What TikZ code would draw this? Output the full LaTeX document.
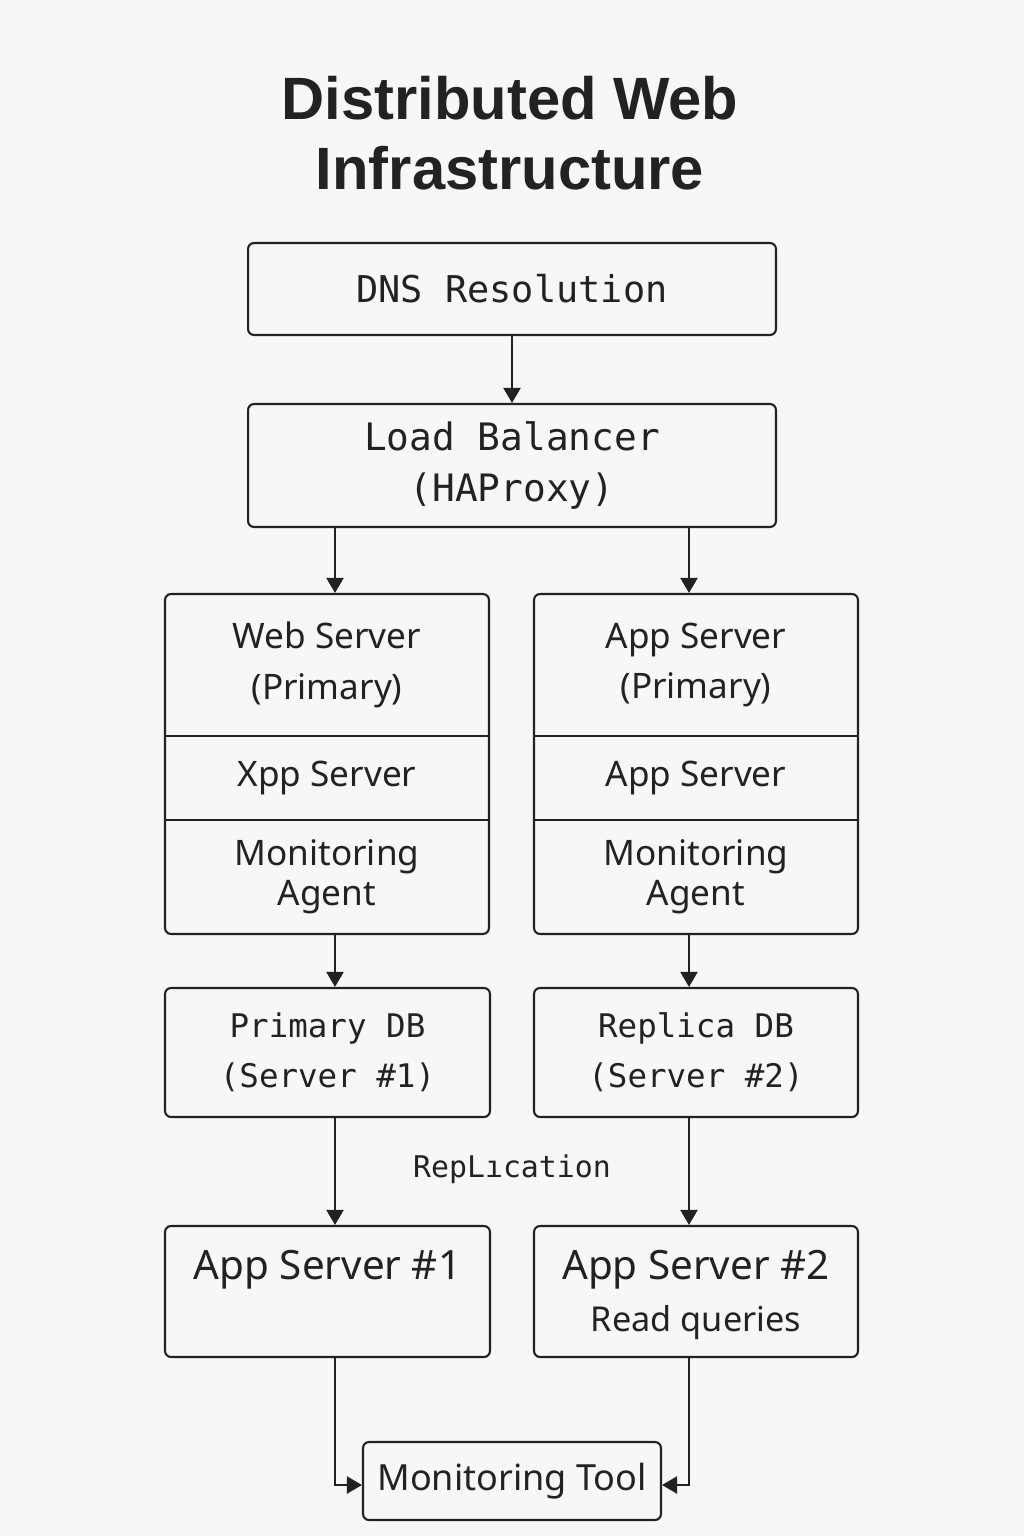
\documentclass[tikz,border=0pt]{standalone}
\usepackage{fontspec}
\setmainfont{Noto Sans}
\newfontfamily\monofont{DejaVu Sans Mono}
\newfontfamily\titlefont{Liberation Sans}
\usepackage{tikz}
\usetikzlibrary{positioning}
\usetikzlibrary{fit}
\usetikzlibrary{arrows.meta}

\definecolor{bgcol}{HTML}{F7F7F7}
\definecolor{inkcol}{HTML}{222222}

\begin{document}
\begin{tikzpicture}[
    x=0.02cm, y=-0.02cm,
    every node/.style={
        text=inkcol
    },
    block/.style={
        rectangle,
        rounded corners=0.12cm,
        draw=inkcol, line width=1.2pt,
        fill=bgcol,
        align=center,
        inner sep=0pt
    },
    section/.style={
        rectangle,
        minimum width=6.48cm,
        inner sep=0pt, outer sep=0pt,
        align=center,
        font=\fontsize{20}{29}\selectfont
    },
    stackbox/.style={
        rectangle,
        rounded corners=0.12cm,
        draw=inkcol, line width=1.2pt,
        inner sep=0pt
    },
    mono/.style={
        font=\monofont\fontsize{21}{28}\selectfont
    },
    link/.style={
        draw=inkcol, line width=1.2pt,
        -{Triangle[length=0.3cm,width=0.34cm]}
    }
]
\fill[bgcol] (0,0) rectangle (1024,1536);

% title
\node (title) at (510,133) [align=center,
    font=\titlefont\bfseries\fontsize{34}{40}\selectfont]
    {Distributed Web\\Infrastructure};

% columns for the connectors
\coordinate (colL) at (335,0);
\coordinate (colR) at (689,0);

\node (dns) [block, mono, minimum width=10.56cm, minimum height=1.84cm]
    at (512,289) {DNS Resolution};
\node (lb)  [block, mono, minimum width=10.56cm, minimum height=2.46cm,
    font=\monofont\fontsize{21.5}{28.5}\selectfont]
    at (512,465.5) {Load Balancer\\(HAProxy)};

% left stack
\node (wsTop) [section, minimum height=2.84cm] at (327,665)
    {Web Server\\(Primary)};
\node (wsMid) [section, minimum height=1.68cm, below=0pt of wsTop]
    {Xpp Server};
\node (wsBot) [section, minimum height=2.28cm, below=0pt of wsMid,
    font=\fontsize{20}{22.5}\selectfont]
    {Monitoring\\Agent};
\node (ws) [stackbox, fit=(wsTop)(wsBot)] {};
\draw[draw=inkcol, line width=1.2pt] (wsTop.south west) -- (wsTop.south east);
\draw[draw=inkcol, line width=1.2pt] (wsMid.south west) -- (wsMid.south east);

% right stack
\node (asTop) [section, minimum height=2.84cm] at (696,665)
    {App Server\\(Primary)};
\node (asMid) [section, minimum height=1.68cm, below=0pt of asTop]
    {App Server};
\node (asBot) [section, minimum height=2.28cm, below=0pt of asMid,
    font=\fontsize{20}{22.5}\selectfont]
    {Monitoring\\Agent};
\node (as) [stackbox, fit=(asTop)(asBot)] {};
\draw[draw=inkcol, line width=1.2pt] (asTop.south west) -- (asTop.south east);
\draw[draw=inkcol, line width=1.2pt] (asMid.south west) -- (asMid.south east);

% databases
\node (pdb) [block, minimum width=6.5cm, minimum height=2.58cm,
    font=\monofont\fontsize{18.5}{28.5}\selectfont]
    at (327.5,1052.5) {Primary DB\\(Server \#1)};
\node (rdb) [block, minimum width=6.48cm, minimum height=2.58cm,
    font=\monofont\fontsize{18.5}{28.5}\selectfont]
    at (696,1052.5) {Replica DB\\(Server \#2)};

\node (repl) [font=\monofont\fontsize{17}{20}\selectfont]
    at (512,1169) {RepLıcation};

% app servers
\node (app1) [block, minimum width=6.5cm, minimum height=2.62cm]
    at (327.5,1291.5) {};
\node (app1txt) [font=\fontsize{23}{28}\selectfont] at (327.5,1270)
    {App Server \#1};
\node (app2) [block, minimum width=6.48cm, minimum height=2.62cm]
    at (696,1291.5) {};
\node (app2txt) [font=\fontsize{23}{28}\selectfont] at (696,1270)
    {App Server \#2};
\node (app2sub) [font=\fontsize{19.5}{24}\selectfont] at (696,1323)
    {Read queries};

\node (mon) [block, minimum width=5.96cm, minimum height=1.56cm,
    font=\fontsize{20.5}{24}\selectfont]
    at (512,1481) {Monitoring Tool};

\draw[link] (dns.south) -- (lb.north);
\draw[link] (lb.south -| colL) -- (ws.north -| colL);
\draw[link] (lb.south -| colR) -- (as.north -| colR);

\draw[link] (ws.south -| colL) -- (pdb.north -| colL);
\draw[link] (as.south -| colR) -- (rdb.north -| colR);

\draw[link] (pdb.south -| colL) -- (app1.north -| colL);
\draw[link] (rdb.south -| colR) -- (app2.north -| colR);

\draw[link] (app1.south -| colL) |- ([yshift=-0.08cm]mon.west);
\draw[link] (app2.south -| colR) |- ([yshift=-0.08cm]mon.east);
\end{tikzpicture}
\end{document}
